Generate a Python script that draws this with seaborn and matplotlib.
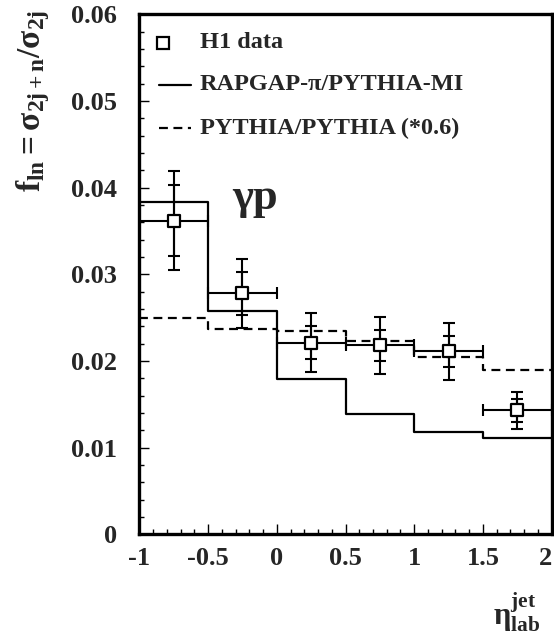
import matplotlib
matplotlib.use("Agg")
import matplotlib.pyplot as plt
import seaborn as sns
import numpy as np
import pandas as pd
from matplotlib.ticker import MultipleLocator, FixedLocator, FixedFormatter

# ---------------- data ----------------
eta_edges = [-1.0, -0.5, 0.0, 0.5, 1.0, 1.5, 2.0]
rapgap_vals = [0.0383, 0.0258, 0.0179, 0.0139, 0.0118, 0.0111]
pythia_vals = [0.0250, 0.0237, 0.0234, 0.0223, 0.0205, 0.0190]

h1_eta = [-0.75, -0.25, 0.25, 0.75, 1.25, 1.75]
h1_val = [0.0362, 0.0278, 0.0221, 0.0218, 0.0211, 0.0143]
h1_stat = [0.0041, 0.0025, 0.0019, 0.0018, 0.0018, 0.0013]
h1_tot = [0.0057, 0.0040, 0.0034, 0.0033, 0.0033, 0.0021]
h1_xerr = [0.25, 0.25, 0.25, 0.25, 0.25, 0.25]

xtick_vals = [-1, -0.5, 0, 0.5, 1, 1.5, 2]
xtick_labels = ["-1", "-0.5", "0", "0.5", "1", "1.5", "2"]
ytick_vals = [0, 0.01, 0.02, 0.03, 0.04, 0.05, 0.06]
ytick_labels = ["0", "0.01", "0.02", "0.03", "0.04", "0.05", "0.06"]

legend_labels = ["H1 data", "RAPGAP-\u03c0/PYTHIA-MI", "PYTHIA/PYTHIA (*0.6)"]

# ---------------- style ----------------
sns.set_theme(style="white")
plt.rcParams["font.family"] = ["Liberation Serif", "DejaVu Serif"]
plt.rcParams["font.weight"] = "bold"
plt.rcParams["mathtext.fontset"] = "custom"
plt.rcParams["mathtext.rm"] = "Liberation Serif:bold"
plt.rcParams["mathtext.it"] = "Liberation Serif:bold"
plt.rcParams["mathtext.bf"] = "Liberation Serif:bold"

W, H = 554, 636
fig = plt.figure(figsize=(W / 100, H / 100), dpi=100)
fig.patch.set_facecolor("white")
left, right, top, bottom = 139.3, 551.7, 14.3, 534.3
ax = fig.add_axes([left / W, 1 - bottom / H, (right - left) / W, (bottom - top) / H])
ax.set_facecolor("white")

dash = (0, (4, 2.5))

# step histograms
rap_df = pd.DataFrame({"eta": eta_edges, "f": rapgap_vals + [rapgap_vals[-1]]})
pyt_df = pd.DataFrame({"eta": eta_edges, "f": pythia_vals + [pythia_vals[-1]]})
sns.lineplot(data=rap_df, x="eta", y="f", ax=ax, color="black", linewidth=1.6,
             drawstyle="steps-post", estimator=None, sort=False, zorder=2)
sns.lineplot(data=pyt_df, x="eta", y="f", ax=ax, color="black", linewidth=1.6,
             drawstyle="steps-post", estimator=None, sort=False, zorder=2,
             linestyle=dash)

# error bars: total (with x-range) and statistical
ax.errorbar(h1_eta, h1_val, yerr=h1_tot, xerr=h1_xerr, fmt="none", ecolor="black",
            elinewidth=1.5, capsize=4.5, capthick=1.5, zorder=3)
ax.errorbar(h1_eta, h1_val, yerr=h1_stat, fmt="none", ecolor="black",
            elinewidth=1.5, capsize=4.5, capthick=1.5, zorder=3)

h1_df = pd.DataFrame({"eta": h1_eta, "f": h1_val})
sns.scatterplot(data=h1_df, x="eta", y="f", ax=ax, marker="s", s=70,
                facecolor="white", edgecolor="black", linewidth=1.6, zorder=5)

# axes limits and ticks
ax.set_xlim(-1, 2)
ax.set_ylim(0, 0.06)
ax.xaxis.set_major_locator(FixedLocator(xtick_vals))
ax.xaxis.set_major_formatter(FixedFormatter(xtick_labels))
ax.yaxis.set_major_locator(FixedLocator(ytick_vals))
ax.yaxis.set_major_formatter(FixedFormatter(ytick_labels))
ax.xaxis.set_minor_locator(MultipleLocator(0.1))
ax.yaxis.set_minor_locator(MultipleLocator(0.002))
ax.tick_params(axis="both", which="major", direction="in", length=7, width=1.0,
               labelsize=19, color="black")
ax.tick_params(axis="both", which="minor", direction="in", length=3.5, width=1.0,
               color="black")
ax.tick_params(axis="y", which="major", pad=16)
ax.tick_params(axis="x", which="major", pad=9)
ax.tick_params(bottom=True, left=True, top=False, right=False, which="both")
for lab in ax.get_xticklabels() + ax.get_yticklabels():
    lab.set_fontweight("bold")
ax.get_xticklabels()[-1].set_horizontalalignment("right")
for sp in ax.spines.values():
    sp.set_linewidth(2.4)
    sp.set_color("black")
ax.set_xlabel("")
ax.set_ylabel("")

# legend (drawn in axes-fraction coordinates)
def ax_xy(px, py):
    return (px - left) / (right - left), (bottom - py) / (bottom - top)

mx, my = ax_xy(163, 43)
ax.plot([mx], [my], transform=ax.transAxes, marker="s", markersize=8,
        markerfacecolor="white", markeredgecolor="black", markeredgewidth=1.6,
        linestyle="none", clip_on=False)
x0, y1 = ax_xy(159, 85)
x1, _ = ax_xy(191, 85)
ax.plot([x0, x1], [y1, y1], transform=ax.transAxes, color="black", linewidth=1.6)
_, y2 = ax_xy(159, 128)
ax.plot([x0, x1], [y2, y2], transform=ax.transAxes, color="black", linewidth=1.6,
        linestyle=dash)
tx, _ = ax_xy(200, 0)
for lab, yy in zip(legend_labels, [my, y1, y2]):
    ax.text(tx, yy, lab, transform=ax.transAxes, fontsize=17.5, fontweight="bold",
            ha="left", va="center")

# gamma p annotation
ax.text(-0.16, 0.0388, "\u03b3p", fontsize=32, fontweight="bold",
        ha="center", va="center")

# axis titles
fig.text(33 / W, 1 - 101 / H,
         r"$\mathbf{f}_{\mathbf{ln}}\mathbf{=\sigma}_{\mathbf{2j+n}}\mathbf{/\sigma}_{\mathbf{2j}}$",
         rotation=90, ha="center", va="center", fontsize=24)
fig.text(493 / W, 1 - 612 / H, r"$\mathbf{\eta}^{\mathbf{jet}}_{\mathbf{lab}}$",
         ha="left", va="center", fontsize=22)

fig.savefig("out.png", dpi=100, facecolor="white")
